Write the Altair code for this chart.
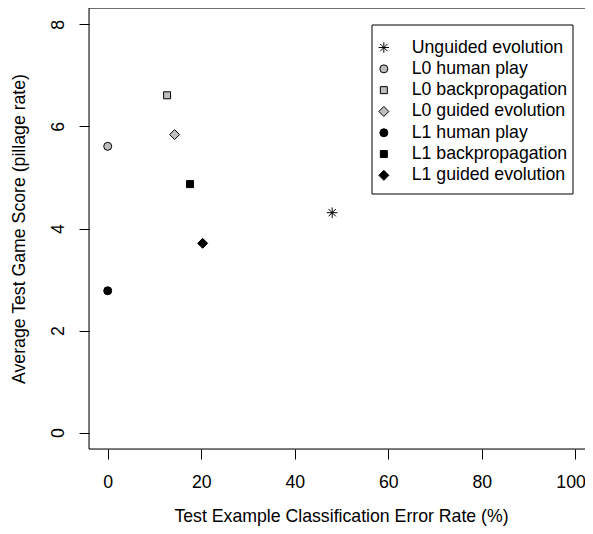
import altair as alt
import pandas as pd

series = ["Unguided evolution", "L0 human play", "L0 backpropagation", "L0 guided evolution",
          "L1 human play", "L1 backpropagation", "L1 guided evolution"]
error_rate = [48.0, 0.0, 12.7, 14.3, 0.0, 17.6, 20.3]
game_score = [4.31, 5.61, 6.61, 5.84, 2.78, 4.87, 3.71]

ASTERISK = "M-1,0L1,0M0,-1L0,1M-0.7,-0.7L0.7,0.7M-0.7,0.7L0.7,-0.7"
shapes = [ASTERISK, "circle", "square", "diamond", "circle", "square", "diamond"]
fills = ["transparent", "#BEBEBE", "#BEBEBE", "#BEBEBE", "black", "black", "black"]
strokes = ["black"] * 7
sizes = [110, 64, 49, 100, 64, 49, 100]

df = pd.DataFrame({"series": series, "x": error_rate, "y": game_score})

W, H = 496, 441
FONT = "Liberation Sans"
FS = 17.7

one = pd.DataFrame({"a": [0]})
top_line = alt.Chart(one).mark_rule(color="black", strokeWidth=1).encode(
    x=alt.value(0), x2=alt.value(W), y=alt.value(0))
bottom_line = alt.Chart(one).mark_rule(color="black", strokeWidth=1).encode(
    x=alt.value(0), x2=alt.value(W), y=alt.value(H))
left_line = alt.Chart(one).mark_rule(color="black", strokeWidth=1).encode(
    x=alt.value(0), y=alt.value(0), y2=alt.value(H))
legend_box = alt.Chart(one).mark_rect(fill="white", stroke="black", strokeWidth=1).encode(
    x=alt.value(283), x2=alt.value(484), y=alt.value(17), y2=alt.value(186))

leg = alt.Legend(
    title=None, orient="none", legendX=286, legendY=30.7, padding=0,
    labelFont=FONT, labelFontSize=FS, labelColor="black", labelLimit=400,
    rowPadding=2.3, symbolStrokeWidth=1, labelOffset=19,
)

points = alt.Chart(df).mark_point(filled=True, strokeWidth=1, opacity=1).encode(
    x=alt.X("x:Q", scale=alt.Scale(domain=[-4, 102.07], nice=False, zero=False),
            axis=alt.Axis(values=[0, 20, 40, 60, 80, 100], title="Test Example Classification Error Rate (%)",
                          grid=False, domain=False, tickColor="black", tickSize=10,
                          labelFont=FONT, labelFontSize=FS, labelColor="black", labelPadding=14,
                          labelFlush=12, labelFlushOffset=10,
                          titleFont=FONT, titleFontSize=FS, titleFontWeight="normal", titleColor="black",
                          titleX=252, titleY=58, titleAlign="center", titleBaseline="top")),
    y=alt.Y("y:Q", scale=alt.Scale(domain=[-0.32, 8.32], nice=False, zero=False),
            axis=alt.Axis(values=[0, 2, 4, 6, 8], title="Average Test Game Score (pillage rate)",
                          grid=False, domain=False, tickColor="black", tickSize=10,
                          labelFont=FONT, labelFontSize=FS, labelColor="black", labelPadding=12,
                          labelAngle=270, labelAlign="center", labelBaseline="bottom",
                          titleFont=FONT, titleFontSize=FS, titleFontWeight="normal", titleColor="black",
                          titleAngle=270, titleX=-61, titleY=H / 2, titleAlign="center",
                          titleBaseline="bottom")),
    shape=alt.Shape("series:N", scale=alt.Scale(domain=series, range=shapes), sort=series, legend=leg),
    fill=alt.Fill("series:N", scale=alt.Scale(domain=series, range=fills), sort=series, legend=leg),
    stroke=alt.Stroke("series:N", scale=alt.Scale(domain=series, range=strokes), sort=series, legend=leg),
    size=alt.Size("series:N", scale=alt.Scale(type="ordinal", domain=series, range=sizes),
                  sort=series, legend=leg),
)

chart = alt.layer(top_line, bottom_line, left_line, legend_box, points).properties(
    width=W, height=H,
    autosize=alt.AutoSizeParams(type="none"),
    padding={"left": 81, "top": 0, "right": 0, "bottom": 77},
).configure_view(stroke=None).configure(background="white")

chart.save("out.html", embed_options={"renderer": "svg", "actions": False})
